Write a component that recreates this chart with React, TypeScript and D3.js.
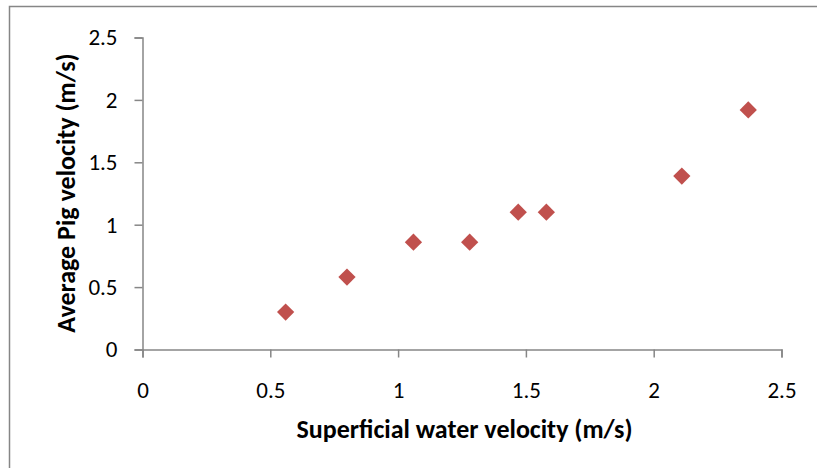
import { useEffect, useRef } from 'react'
import * as d3 from 'd3'

// Superficial water velocity (m/s) vs average pig velocity (m/s)
const waterVelocity = [0.56, 0.8, 1.06, 1.28, 1.47, 1.58, 2.11, 2.37]
const pigVelocity = [0.3, 0.58, 0.86, 0.86, 1.1, 1.1, 1.39, 1.92]
const xTicks = [0, 0.5, 1, 1.5, 2, 2.5]
const yTicks = [0, 0.5, 1, 1.5, 2, 2.5]

const W = 817
const H = 468
const FONT = "Carlito, Lato, 'Open Sans', sans-serif"

export default function App() {
  const ref = useRef<SVGSVGElement | null>(null)

  useEffect(() => {
    document.body.style.margin = '0'
    if (!ref.current) {return}
    const svg = d3.select(ref.current)
    svg.selectAll('*').remove()

    const x = d3.scaleLinear().domain([0, 2.5]).range([142.5, 781.5])
    const y = d3.scaleLinear().domain([0, 2.5]).range([349.5, 37.5])

    // outer chart border
    svg.append('rect')
      .attr('x', 9.5).attr('y', 6.5)
      .attr('width', W + 20).attr('height', H + 20)
      .attr('fill', 'none').attr('stroke', '#868686').attr('stroke-width', 1.5)

    const grey = '#868686'

    const xAxis = svg.append('g')
      .attr('transform', `translate(0,${y(0)})`)
      .call(d3.axisBottom(x).tickValues(xTicks).tickSize(8).tickPadding(24).tickFormat(d3.format('')))
    const yAxis = svg.append('g')
      .attr('transform', `translate(${x(0)},0)`)
      .call(d3.axisLeft(y).tickValues(yTicks).tickSize(8).tickPadding(17).tickFormat(d3.format('')))

    for (const g of [xAxis, yAxis]) {
      g.select('.domain').attr('stroke', grey).attr('stroke-width', 1.5)
      g.selectAll('.tick line').attr('stroke', grey).attr('stroke-width', 1.5)
      g.selectAll('.tick text').attr('fill', '#000').attr('font-size', 23).attr('font-family', FONT)
    }

    const pts = waterVelocity.map((v, i) => [v, pigVelocity[i]] as [number, number])
    const diamond = d3.symbol().type(d3.symbolDiamond2).size(190)
    svg.append('g')
      .selectAll('path')
      .data(pts)
      .join('path')
      .attr('transform', (d) => `translate(${x(d[0])},${y(d[1])})`)
      .attr('d', diamond)
      .attr('fill', '#C0504D')

    svg.append('text')
      .attr('x', 464.5).attr('y', 438)
      .attr('text-anchor', 'middle')
      .attr('font-family', FONT).attr('font-weight', 'bold').attr('font-size', 26)
      .text('Superficial water velocity (m/s)')

    svg.append('text')
      .attr('transform', 'translate(75,193) rotate(-90)')
      .attr('text-anchor', 'middle')
      .attr('font-family', FONT).attr('font-weight', 'bold').attr('font-size', 26)
      .text('Average Pig velocity (m/s)')
  }, [])

  return <svg ref={ref} width={W} height={H} style={{ display: 'block', background: '#fff' }} />
}
